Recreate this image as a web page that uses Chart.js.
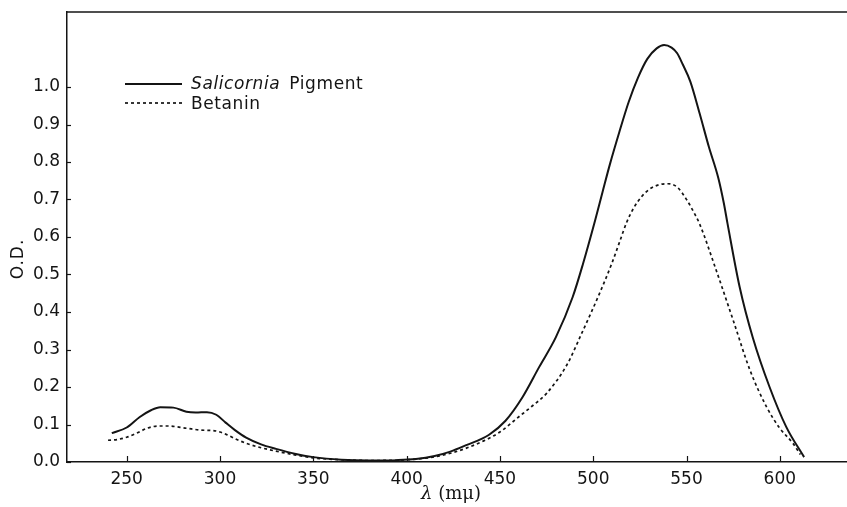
<!DOCTYPE html>
<html><head><meta charset="utf-8">
<script src="https://cdn.jsdelivr.net/npm/chart.js@4/dist/chart.umd.min.js"></script>
<style>html,body{margin:0;padding:0;background:#fff}#wrap{width:847px;height:507px}</style>
</head><body><div id="wrap"><canvas id="c" width="847" height="507"></canvas></div>
<script>
// Salicornia pigment (solid)
const salWavelength = [242,250,257,263,268,275,282,287,293,298,303,308,314,322,330,340,350,365,380,395,405,415,423,432,444,453,462,471,480,489,494.5,501,505,509,514,519,524,529,534,538,542,545,548,552,557,562,567,570,572,578.5,585.5,594.5,603.5,613];
const salOD = [0.077,0.092,0.12,0.138,0.146,0.145,0.134,0.132,0.133,0.126,0.105,0.085,0.065,0.047,0.035,0.022,0.013,0.006,0.004,0.005,0.008,0.016,0.027,0.045,0.072,0.11,0.172,0.253,0.333,0.44,0.528,0.644,0.72,0.795,0.88,0.96,1.025,1.075,1.103,1.112,1.105,1.09,1.06,1.015,0.93,0.84,0.758,0.69,0.635,0.466,0.332,0.2,0.093,0.013];
// Betanin (dotted)
const betWavelength = [240,245,250,255,261,267,272,282,290,296,300,304,309,314,322,330,340,350,365,380,400,414,424,432,442,450,460,467,475,486,494,503,510,514,518,522,526,530,535,540,545,550,554,557,566,575,584,593,600,607,611];
const betOD = [0.058,0.06,0.066,0.076,0.09,0.096,0.096,0.09,0.085,0.084,0.08,0.072,0.06,0.05,0.038,0.029,0.019,0.011,0.006,0.004,0.006,0.013,0.024,0.037,0.058,0.08,0.12,0.148,0.183,0.26,0.345,0.445,0.53,0.585,0.64,0.68,0.708,0.727,0.739,0.742,0.733,0.70,0.665,0.635,0.51,0.378,0.245,0.146,0.09,0.05,0.02];
const xTicks = [250,300,350,400,450,500,550,600];
const yTicks = [0,0.1,0.2,0.3,0.4,0.5,0.6,0.7,0.8,0.9,1.0];
const legendSal = ['Salicornia', ' Pigment'];
const legendBet = 'Betanin';
const xTitle = ['λ', ' (mμ)'];
const yTitle = 'O.D.';

const INK = '#141414';
const toPts = (xs, ys) => xs.map((v, i) => ({x: v, y: ys[i]}));

const framePlugin = {
  id: 'frame',
  afterDraw(chart) {
    const {ctx, chartArea: a, scales: {x, y}} = chart;
    ctx.save();
    ctx.strokeStyle = INK;
    ctx.lineWidth = 1.5;
    ctx.beginPath(); ctx.moveTo(a.left, a.top); ctx.lineTo(a.right, a.top); ctx.stroke();
    ctx.lineWidth = 1.2;
    xTicks.forEach(v => { const px = Math.round(x.getPixelForValue(v)) + 0.5; ctx.beginPath(); ctx.moveTo(px, a.bottom); ctx.lineTo(px, a.bottom - 6); ctx.stroke(); });
    yTicks.forEach(v => { const py = Math.round(y.getPixelForValue(v)) + 0.5; ctx.beginPath(); ctx.moveTo(a.left, py); ctx.lineTo(a.left + 4, py); ctx.stroke(); });
    // legend
    const ds = chart.data.datasets;
    const lx0 = 125, lx1 = 182, ly0 = 84, ly1 = 103;
    ctx.strokeStyle = ds[0].borderColor; ctx.lineWidth = ds[0].borderWidth; ctx.setLineDash([]);
    ctx.beginPath(); ctx.moveTo(lx0, ly0); ctx.lineTo(lx1, ly0); ctx.stroke();
    ctx.strokeStyle = ds[1].borderColor; ctx.lineWidth = ds[1].borderWidth; ctx.setLineDash(ds[1].borderDash);
    ctx.beginPath(); ctx.moveTo(lx0, ly1); ctx.lineTo(lx1, ly1); ctx.stroke();
    ctx.setLineDash([]);
    ctx.fillStyle = INK; ctx.textBaseline = 'middle'; ctx.textAlign = 'left';
    ctx.letterSpacing = '0.6px';
    ctx.font = 'italic 17px "DejaVu Sans"';
    ctx.fillText(legendSal[0], 191, ly0 + 1);
    const w = ctx.measureText(legendSal[0]).width;
    ctx.font = '17px "DejaVu Sans"';
    ctx.fillText(legendSal[1], 194 + w, ly0 + 1);
    ctx.fillText(legendBet, 191, ly1 + 2);
    ctx.letterSpacing = '0px';
    // x title
    ctx.font = 'italic 18px "DejaVu Serif"';
    const w1 = ctx.measureText(xTitle[0]).width;
    ctx.font = '18px "DejaVu Serif"';
    const w2 = ctx.measureText(xTitle[1]).width;
    const sx = 451 - (w1 + w2) / 2;
    ctx.font = 'italic 18px "DejaVu Serif"';
    ctx.fillText(xTitle[0], sx, 494);
    ctx.font = '18px "DejaVu Serif"';
    ctx.fillText(xTitle[1], sx + w1, 494);
    // y title
    ctx.translate(19, 259); ctx.rotate(-Math.PI / 2);
    ctx.textAlign = 'center';
    ctx.letterSpacing = '1px';
    ctx.font = '17px "DejaVu Sans"';
    ctx.fillText(yTitle, 0, 0);
    ctx.restore();
  }
};

new Chart(document.getElementById('c'), {
  type: 'line',
  data: {
    datasets: [
      {label: 'Salicornia Pigment', data: toPts(salWavelength, salOD), borderColor: INK, borderWidth: 2, pointRadius: 0, cubicInterpolationMode: 'monotone', fill: false},
      {label: 'Betanin', data: toPts(betWavelength, betOD), borderColor: INK, borderWidth: 1.7, borderDash: [3, 3], pointRadius: 0, cubicInterpolationMode: 'monotone', fill: false}
    ]
  },
  options: {
    responsive: false, animation: false,
    layout: {padding: {top: 12, left: 0, right: 0, bottom: 0}},
    plugins: {legend: {display: false}, tooltip: {enabled: false}},
    scales: {
      x: {
        type: 'linear', min: 218, max: 636,
        afterBuildTicks: s => { s.ticks = xTicks.map(v => ({value: v})); },
        afterFit: s => { s.height = 45; s.paddingLeft = 0; s.paddingRight = 0; },
        grid: {drawOnChartArea: false, drawTicks: false},
        border: {color: INK, width: 1.5},
        ticks: {color: INK, font: {family: 'DejaVu Sans', size: 17}, padding: 7, maxRotation: 0, autoSkip: false, callback: v => String(v)}
      },
      y: {
        type: 'linear', min: 0, max: 1.2,
        afterBuildTicks: s => { s.ticks = yTicks.map(v => ({value: v})); },
        afterFit: s => { s.width = 67; s.paddingTop = 0; s.paddingBottom = 0; },
        grid: {drawOnChartArea: false, drawTicks: false},
        border: {color: INK, width: 1.5},
        ticks: {color: INK, font: {family: 'DejaVu Sans', size: 17}, padding: 7, autoSkip: false, callback: v => v.toFixed(1)}
      }
    }
  },
  plugins: [framePlugin]
});
</script>
</body></html>
